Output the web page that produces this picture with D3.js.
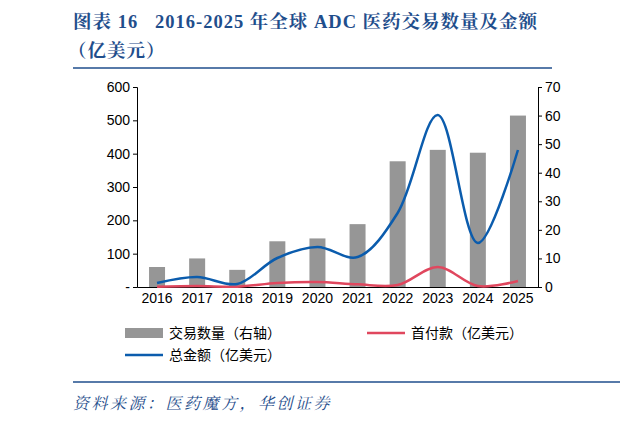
<!DOCTYPE html><html><head><meta charset="utf-8"><script src="https://cdn.jsdelivr.net/npm/d3@7"></script>
<style>body{margin:0;background:#fff}svg{display:block}</style></head><body><script>
const years=["2016","2017","2018","2019","2020","2021","2022","2023","2024","2025"];
const deals=[7,10,6,16,17,22,44,48,47,60];
const total=[12,30,9,87,120,90,222,516,132,411];
const upfront=[1,3,1,12,15,8,6,60,3,18];
const leftTicks=[0,100,200,300,400,500,600];
const rightTicks=[0,10,20,30,40,50,60,70];
const W=620,H=423;
const svg=d3.select("body").append("svg").attr("width",W).attr("height",H);
const navy="#1f4e8c";
const serif="'Liberation Serif','Noto Serif CJK SC','Noto Sans CJK SC',serif";
svg.append("text").attr("x",73).attr("y",28).attr("fill",navy).attr("font-weight","bold").attr("font-size",18.5).attr("letter-spacing",1).attr("font-family",serif).attr("xml:space","preserve").text("图表 16   2016-2025 年全球 ADC 医药交易数量及金额");
svg.append("text").attr("x",68).attr("y",57).attr("fill",navy).attr("font-weight","bold").attr("font-size",18.5).attr("letter-spacing",1).attr("font-family",serif).text("（亿美元）");
svg.append("line").attr("x1",73).attr("x2",552).attr("y1",68).attr("y2",68).attr("stroke",navy).attr("stroke-width",1.5);
svg.append("line").attr("x1",73).attr("x2",620).attr("y1",382).attr("y2",382).attr("stroke",navy).attr("stroke-width",1.5);
svg.append("text").attr("x",73).attr("y",409).attr("fill",navy).attr("font-style","italic").attr("font-size",16).attr("letter-spacing",2.5).attr("font-family",serif).text("资料来源：医药魔方，华创证券");
const x=d3.scaleBand().domain(years).range([137,538]).padding(0);
const yL=d3.scaleLinear().domain([0,600]).range([287,87]);
const yR=d3.scaleLinear().domain([0,70]).range([287,87]);
const font="'Liberation Sans',Arial,sans-serif";
const g=svg.append("g");
g.selectAll("rect").data(years).join("rect").attr("x",d=>x(d)+x.bandwidth()/2-8).attr("width",16)
 .attr("y",(d,i)=>yR(deals[i])).attr("height",(d,i)=>287-yR(deals[i])).attr("fill","#969696");
const ax=svg.append("g").attr("transform","translate(0,287)").call(d3.axisBottom(x).tickSize(0).tickPadding(6));
const al=svg.append("g").attr("transform","translate(137,0)").call(d3.axisLeft(yL).tickValues(leftTicks).tickSize(4).tickFormat(d=>d===0?"-":d));
const ar=svg.append("g").attr("transform","translate(538,0)").call(d3.axisRight(yR).tickValues(rightTicks).tickSize(4));
svg.selectAll(".tick text").attr("font-size",14).attr("font-family",font).attr("fill","#000");
svg.selectAll(".domain,.tick line").attr("stroke","#000");
const cx=d=>x(d)+x.bandwidth()/2;
const line=arr=>d3.line().x((d,i)=>cx(years[i])).y(d=>yL(d)).curve(d3.curveCatmullRom.alpha(0.5))(arr);
svg.append("path").attr("d",line(upfront)).attr("fill","none").attr("stroke","#e0475e").attr("stroke-width",2.5);
svg.append("path").attr("d",line(total)).attr("fill","none").attr("stroke","#0b5cad").attr("stroke-width",2.5);
const lg=svg.append("g").attr("font-family","'Noto Sans CJK SC',sans-serif").attr("font-size",14);
lg.append("rect").attr("x",125).attr("y",328).attr("width",38).attr("height",10).attr("fill","#969696");
lg.append("text").attr("x",169).attr("y",338).text("交易数量（右轴）");
lg.append("line").attr("x1",367).attr("x2",405).attr("y1",333).attr("y2",333).attr("stroke","#e0475e").attr("stroke-width",2.5);
lg.append("text").attr("x",411).attr("y",338).text("首付款（亿美元）");
lg.append("line").attr("x1",125).attr("x2",163).attr("y1",355).attr("y2",355).attr("stroke","#0b5cad").attr("stroke-width",2.5);
lg.append("text").attr("x",169).attr("y",360).text("总金额（亿美元）");
</script></body></html>
